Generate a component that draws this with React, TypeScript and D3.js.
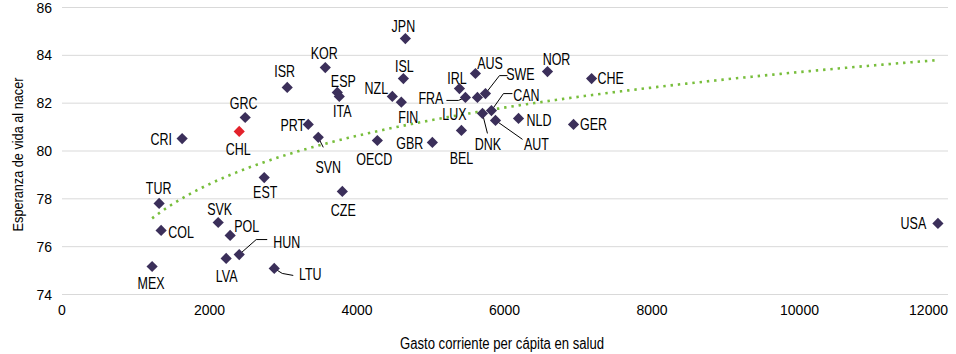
import React from "react";
import * as d3 from "d3";

// ---- data ----
const countries = ["JPN","KOR","ISR","ISL","ESP","ITA","NZL","FIN","AUS","IRL","FRA","LUX","SWE","DNK","CAN","AUT","BEL","NOR","CHE","NLD","GER","GBR","OECD","SVN","CZE","PRT","GRC","CHL","CRI","EST","TUR","COL","SVK","POL","HUN","LVA","LTU","MEX","USA"];
const spending = [4656,3570,3054,4629,3733,3760,4479,4601,5606,5389,5470,5633,5742,5701,5823,5878,5416,6583,7181,6190,6936,5022,4276,3475,3801,3339,2484,2403,1629,2742,1317,1344,2118,2280,2403,2226,2878,1222,11877];
const lifeExp = [84.70,83.49,82.66,83.03,82.45,82.28,82.28,82.04,83.24,82.61,82.24,82.24,82.40,81.57,81.69,81.28,80.86,83.32,83.03,81.36,81.11,80.36,80.44,80.57,78.31,81.11,81.40,80.82,80.52,78.89,77.81,76.68,77.01,76.47,75.67,75.51,75.09,75.17,76.97];
const highlighted = ["CHL"];
const xTicks = [0,2000,4000,6000,8000,10000,12000];
const yTicks = [74,76,78,80,82,84,86];
const xTitle = "Gasto corriente per cápita en salud";
const yTitle = "Esperanza de vida al nacer";

// ---- layout (label placement, px offsets from the marker) ----
const labelOffset: Record<string, [number, number]> = {
  JPN: [-2, -12], KOR: [-1, -14.5], ISR: [-2.5, -16], ISL: [1, -12], ESP: [6, -11],
  ITA: [3, 15], NZL: [-16, -8.5], FIN: [7, 15], AUS: [14.5, -10.5], IRL: [-2.5, -10.5],
  FRA: [-34.5, 0.5], LUX: [-23, 17], SWE: [35, -19], DNK: [5.5, 30.5], CAN: [35, -15],
  AUT: [41, 23.5], BEL: [0, 27.5], NOR: [9, -12.5], CHE: [19, -0.5], NLD: [20.5, 2],
  GER: [20, 0], GBR: [-22.5, 1], OECD: [-3, 19], SVN: [10, 29.5], CZE: [1, 19],
  PRT: [-15.5, 1], GRC: [-1.5, -14.5], CHL: [-1, 18], CRI: [-21, 0.5], EST: [1, 15],
  TUR: [-0.5, -15.5], COL: [20, 1.5], SVK: [1.5, -13.5], POL: [16.5, -9], HUN: [47.5, -12.5],
  LVA: [0.5, 18], LTU: [36, 6], MEX: [-1, 16.5], USA: [-24.5, -0.5],
};
const leaders: Record<string, [number, number][]> = {
  FRA: [[0, 0], [-7, 3], [-19, 3]],
  SWE: [[0, 0], [14, -18], [22, -18]],
  CAN: [[0, 0], [12, -17], [21, -17]],
  AUT: [[0, 0], [27, 19]],
  DNK: [[0, 0], [5, 20]],
  SVN: [[0, 0], [5, 10]],
  HUN: [[0, 0], [17, -15], [28, -15]],
  LTU: [[0, 0], [8, 5], [19, 7]],
};

const W = 956, H = 354;
const left = 62, right = 947, top = 7.5, bottom = 294.5;

const FONT = "'Liberation Sans', Arial, sans-serif";

function NarrowText(props: { x: number; y: number; size: number; squeeze: number; rotate?: number; anchor?: string; children: React.ReactNode }) {
  const { x, y, size, squeeze, rotate = 0, anchor = "middle", children } = props;
  return (
    <g transform={`translate(${x},${y}) rotate(${rotate}) scale(${squeeze},1)`}>
      <text x={0} y={0} textAnchor={anchor} fontFamily={FONT} fontSize={size} fill="#000">
        {children}
      </text>
    </g>
  );
}

export default function App() {
  const x = d3.scaleLinear().domain([0, 12000]).range([left, right]);
  const y = d3.scaleLinear().domain([74, 86]).range([bottom, top]);

  // logarithmic least-squares trend (as Excel's log trendline)
  const lx = spending.map((v) => Math.log(v));
  const mx = d3.mean(lx)!;
  const my = d3.mean(lifeExp)!;
  const sxy = d3.sum(lx.map((v, i) => (v - mx) * (lifeExp[i] - my)));
  const sxx = d3.sum(lx.map((v) => (v - mx) ** 2));
  const b = sxy / sxx;
  const a = my - b * mx;
  const [xmin, xmax] = d3.extent(spending) as [number, number];
  const samples = d3.range(0, 301).map((i) => xmin + ((xmax - xmin) * i) / 300);
  const trend = d3.line<number>().x((v) => x(v)).y((v) => y(a + b * Math.log(v)))(samples)!;

  const diamond = (cx: number, cy: number, r = 5.6) =>
    `M${cx},${cy - r}L${cx + r},${cy}L${cx},${cy + r}L${cx - r},${cy}Z`;

  return (
    <svg width={W} height={H} style={{ position: "absolute", left: 0, top: 0, display: "block", background: "#fff" }}>
      {/* gridlines */}
      {yTicks.map((t) => (
        <line key={t} x1={left} x2={948} y1={y(t)} y2={y(t)} stroke="#d9d9d9" strokeWidth={1} />
      ))}
      {/* y tick labels */}
      {yTicks.map((t) => (
        <text key={t} x={52} y={y(t) + 5} textAnchor="end" fontFamily={FONT} fontSize={14} fill="#000">
          {t}
        </text>
      ))}
      {/* x tick labels */}
      {xTicks.map((t, i) => (
        <text
          key={t}
          x={i === xTicks.length - 1 ? 948 : x(t)}
          y={315}
          textAnchor={i === xTicks.length - 1 ? "end" : "middle"}
          fontFamily={FONT}
          fontSize={14}
          fill="#000"
        >
          {t}
        </text>
      ))}
      {/* axis titles */}
      <NarrowText x={502} y={349} size={16} squeeze={0.82}>{xTitle}</NarrowText>
      <NarrowText x={23} y={154.5} size={15.5} squeeze={0.82} rotate={-90}>{yTitle}</NarrowText>
      {/* trendline */}
      <path d={trend} fill="none" stroke="#78BE3C" strokeWidth={2.6} strokeDasharray="2.4 4.9" />
      {/* leader lines */}
      {countries.map((c, i) => {
        const L = leaders[c];
        if (!L) return null;
        const px = x(spending[i]), py = y(lifeExp[i]);
        const d = d3.line()(L.map(([dx, dy]) => [px + dx, py + dy]))!;
        return <path key={c} d={d} fill="none" stroke="#000" strokeWidth={1} />;
      })}
      {/* points */}
      {countries.map((c, i) => (
        <path
          key={c}
          d={diamond(x(spending[i]), y(lifeExp[i]))}
          fill={highlighted.includes(c) ? "#E3222B" : "#3B2F5A"}
        />
      ))}
      {/* labels */}
      {countries.map((c, i) => {
        const [dx, dy] = labelOffset[c];
        return (
          <NarrowText key={c} x={x(spending[i]) + dx} y={y(lifeExp[i]) + dy + 5.8} size={16} squeeze={0.78}>
            {c}
          </NarrowText>
        );
      })}
    </svg>
  );
}
